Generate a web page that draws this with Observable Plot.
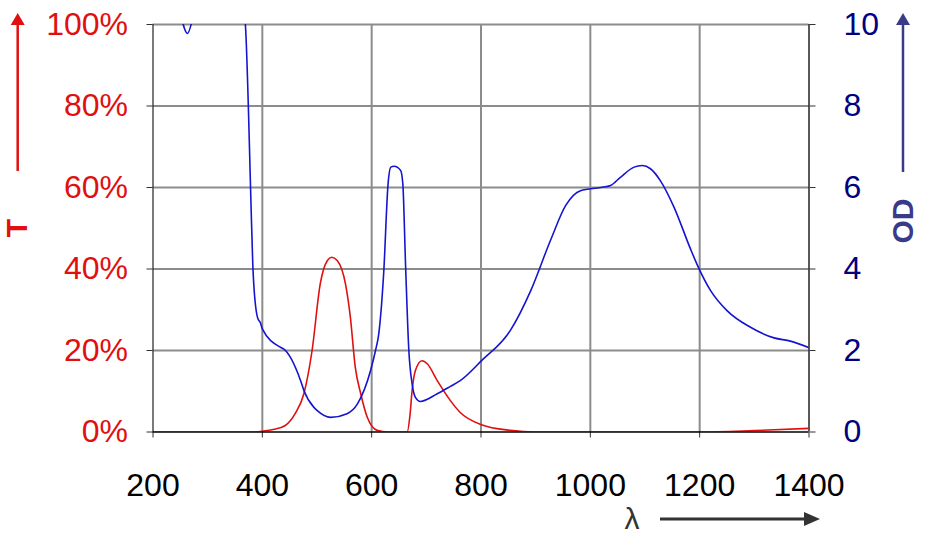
<!DOCTYPE html>
<html>
<head>
<meta charset="utf-8">
<script src="https://cdn.jsdelivr.net/npm/d3@7"></script>
<script src="https://cdn.jsdelivr.net/npm/@observablehq/plot@0.6"></script>
<style>
  html, body { margin: 0; padding: 0; background: #fff; }
  #wrap { position: relative; width: 930px; height: 555px; }
  #wrap svg { position: absolute; left: 0; top: 0; }
</style>
</head>
<body>
<div id="wrap"></div>
<script>
// Wavelength (nm) and transmission T (%) – red curve
const tWavelength = [200, 300, 380, 400, 420, 442, 460, 476, 491, 506, 519, 527, 537, 552, 561, 570, 580, 592, 610, 630, 665, 670, 674, 680, 692, 702, 720, 744, 762, 801, 854, 900, 1000, 1200, 1300, 1400];
const tValues     = [0,   0,   0,   0.2, 0.6, 1.6, 4.5, 9.4, 20,  36.4, 42.1, 42.9, 42.1, 36.4, 28.2, 15.9, 9.4, 3.6, 0.4, 0,   0,   4,   10.2, 15.1, 17.5, 16.7, 12.6, 7.7, 4.8, 1.8, 0.4, 0,  0,    0,    0.35, 0.9];

// Wavelength (nm) and optical density OD – blue curve (values above 10 are off-scale)
const odWavelength = [250, 263, 275, 320, 369, 381, 383, 391, 397, 400, 433, 439, 470, 476, 494, 500, 525, 555, 574, 598, 607, 613, 622, 630, 635, 641, 653, 657, 662, 668, 674, 680, 689, 720, 744, 762, 801, 854, 891, 927, 955, 982, 1019, 1037, 1055, 1080, 1095, 1110, 1128, 1153, 1183, 1196, 1220, 1250, 1293, 1336, 1366, 1400];
const odValues     = [10.3, 9.78, 10.3, 15,  10.0, 4.8, 3.96, 2.82, 2.66, 2.53, 2.08, 2.04, 1.26, 1.02, 0.61, 0.53, 0.36, 0.45, 0.69, 1.51, 2.0, 2.41, 3.9, 6.09, 6.5, 6.52, 6.42, 6.09, 4.1, 2.0, 1.18, 0.85, 0.75, 0.94, 1.12, 1.26, 1.75, 2.5, 3.47, 4.7, 5.56, 5.92, 6.0, 6.05, 6.25, 6.5, 6.54, 6.46, 6.17, 5.52, 4.5, 4.09, 3.47, 2.98, 2.57, 2.31, 2.23, 2.07];

// Tick labels
const xTicks = [200, 400, 600, 800, 1000, 1200, 1400];
const tTicks = [0, 20, 40, 60, 80, 100];
const odTicks = [0, 2, 4, 6, 8, 10];

const tData = tWavelength.map((w, i) => ({w, v: tValues[i]}));
// OD 0..10 shares the vertical range with T 0..100 %
const odData = odWavelength.map((w, i) => ({w, v: odValues[i] * 10}));

const RED = "#e01010";
const NAVY = "#000080";
const GRID = "#8c8c8c";

const chart = Plot.plot({
  width: 930,
  height: 555,
  marginLeft: 152.5,
  marginRight: 121.5,
  marginTop: 24,
  marginBottom: 123.5,
  style: {fontFamily: "Liberation Sans, Arial, sans-serif", background: "transparent"},
  x: {domain: [200, 1400]},
  y: {domain: [0, 100]},
  marks: [
    Plot.gridX(xTicks.slice(1, -1), {stroke: GRID, strokeOpacity: 1, strokeWidth: 2}),
    Plot.gridY(tTicks.slice(1), {stroke: GRID, strokeOpacity: 1, strokeWidth: 2}),
    Plot.ruleX([200], {stroke: "#333", strokeWidth: 1.3}),
    Plot.ruleX([1400], {stroke: "#000", strokeWidth: 1.3}),
    Plot.axisY({
      ticks: tTicks, anchor: "left", tickFormat: d => d + "%",
      tickSize: 6, tickPadding: 19, fontSize: 32, color: RED, stroke: "#333", label: null
    }),
    Plot.axisY({
      ticks: tTicks, anchor: "right", tickFormat: (d, i) => String(odTicks[i]),
      tickSize: 6, tickPadding: 28.5, fontSize: 32, color: NAVY, stroke: "#333", label: null
    }),
    Plot.axisX({
      ticks: xTicks, anchor: "bottom", tickFormat: d => String(d),
      tickSize: 6, tickPadding: 35.5, fontSize: 32, color: "#000", stroke: "#333", label: null
    }),
    Plot.line(tData, {x: "w", y: "v", stroke: RED, strokeWidth: 1.6, curve: "monotone-x", clip: true}),
    Plot.line(odData, {x: "w", y: "v", stroke: "#1515d0", strokeWidth: 1.6, curve: "monotone-x", clip: true}),
    Plot.ruleY([0], {stroke: "#000", strokeWidth: 1.3})
  ]
});

const wrap = document.getElementById("wrap");
wrap.appendChild(chart);

// Decorative axis titles with arrows
const svg = d3.select(wrap).append("svg")
  .attr("width", 930).attr("height", 555)
  .style("font-family", "Liberation Sans, Arial, sans-serif");

function arrowUp(x, yBottom, yTip, color) {
  svg.append("line").attr("x1", x).attr("x2", x).attr("y1", yBottom).attr("y2", yTip + 10)
    .attr("stroke", color).attr("stroke-width", 2.5);
  svg.append("path").attr("d", `M${x},${yTip} L${x - 7},${yTip + 12} L${x + 7},${yTip + 12} Z`).attr("fill", color);
}
arrowUp(17.7, 171, 13, RED);
arrowUp(903, 172, 13, "#3a3a8a");

svg.append("text").attr("transform", "translate(27,228) rotate(-90)")
  .attr("text-anchor", "middle").attr("font-size", 30).attr("font-weight", "bold")
  .attr("fill", RED).text("T");
svg.append("text").attr("transform", "translate(913,221) rotate(-90)")
  .attr("text-anchor", "middle").attr("font-size", 30).attr("font-weight", "bold")
  .attr("fill", "#3a3a8a").text("OD");

svg.append("text").attr("x", 632).attr("y", 529)
  .attr("text-anchor", "middle").attr("font-size", 30).attr("fill", "#333").text("λ");
svg.append("line").attr("x1", 660).attr("x2", 806).attr("y1", 519).attr("y2", 519)
  .attr("stroke", "#333").attr("stroke-width", 3);
svg.append("path").attr("d", "M820,519 L804,512 L804,526 Z").attr("fill", "#333");
</script>
</body>
</html>
